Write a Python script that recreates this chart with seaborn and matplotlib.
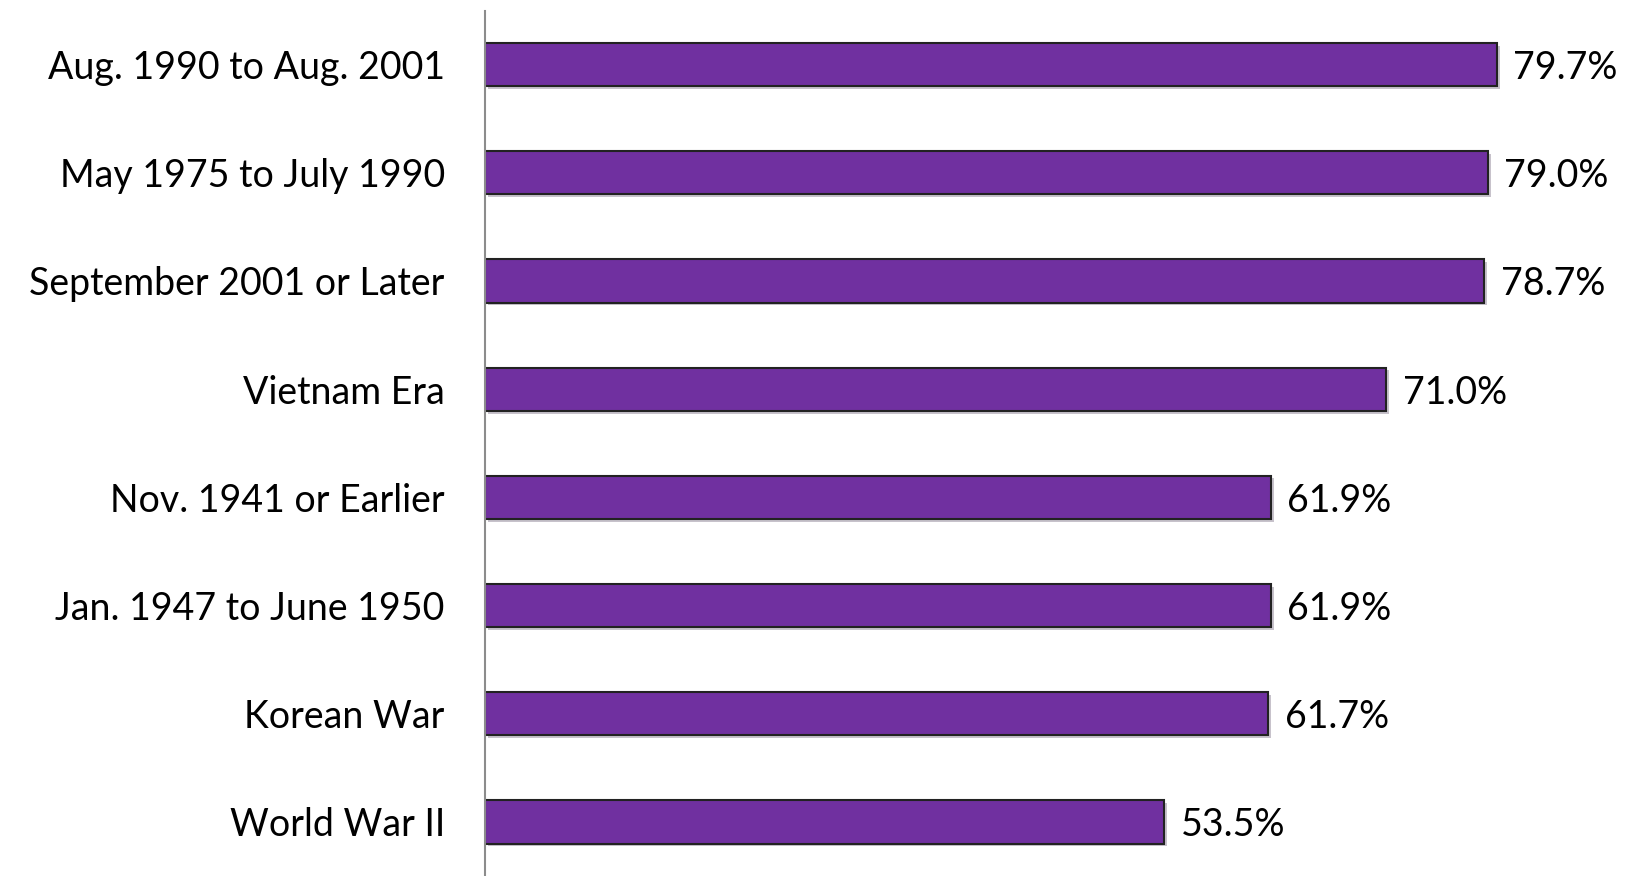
import matplotlib
matplotlib.use("Agg")
import matplotlib.pyplot as plt
import matplotlib.patheffects as pe
import pandas as pd
import seaborn as sns

# data
periods = ["Aug. 1990 to Aug. 2001", "May 1975 to July 1990", "September 2001 or Later",
           "Vietnam Era", "Nov. 1941 or Earlier", "Jan. 1947 to June 1950",
           "Korean War", "World War II"]
rates = [79.7, 79.0, 78.7, 71.0, 61.9, 61.9, 61.7, 53.5]

df = pd.DataFrame({"period": periods, "rate": rates})

sns.set_style("white")
plt.rcParams["font.family"] = ["Lato", "DejaVu Sans"]

fig = plt.figure(figsize=(16.25, 8.76), dpi=100)
ax = fig.add_axes([0.2985, 0.0, 0.7015, 0.988])

sns.barplot(data=df, x="rate", y="period", color="#7030A0", saturation=1,
            edgecolor="#222222", linewidth=1.5, width=0.4, orient="h", ax=ax)

for p in ax.patches:
    p.set_path_effects([pe.SimplePatchShadow(offset=(2, -2), alpha=0.25), pe.Normal()])

for i, v in enumerate(rates):
    ax.text(v + 1.3, i, f"{v:.1f}%", va="center_baseline", ha="left",
            fontsize=27, color="black")

ax.set_xlim(0, 89.8)
ax.set_ylim(7.5, -0.5)
ax.set_xlabel("")
ax.set_ylabel("")
ax.set_xticks([])
ax.tick_params(axis="y", length=0, pad=29, labelsize=27, labelcolor="black")
for s in ["top", "right", "bottom"]:
    ax.spines[s].set_visible(False)
ax.spines["left"].set_color("#8c8c8c")
ax.spines["left"].set_linewidth(1.5)

fig.savefig("out.png", dpi=100)
